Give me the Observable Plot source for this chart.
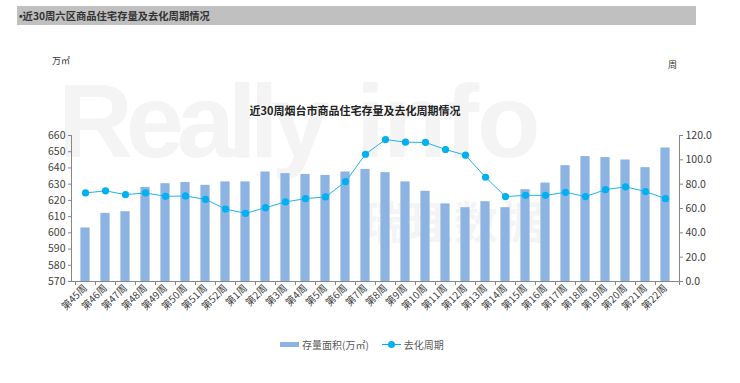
<!DOCTYPE html>
<html><head><meta charset="utf-8">
<script src="https://cdn.jsdelivr.net/npm/d3@7"></script>
<script src="https://cdn.jsdelivr.net/npm/@observablehq/plot@0.6"></script>
<style>
body{margin:0;background:#fff;font-family:"Noto Sans CJK SC","Noto Sans",sans-serif;}
#wrap{position:relative;width:740px;height:383px;overflow:hidden;background:#fff;}
#hdr{position:absolute;left:17px;top:6px;width:679px;height:19px;background:#c0c0c0;font-size:10.3px;font-weight:bold;color:#333;line-height:19px;padding-left:2px;box-sizing:border-box;}
#hdr .b{font-family:"Liberation Sans",Arial,sans-serif;}
.wm{position:absolute;color:#f4f4f4;font-family:"Liberation Sans",Arial,sans-serif;white-space:nowrap;}
#wm1{left:58px;top:62px;font-size:104px;font-weight:bold;letter-spacing:-7px;}
#wm2{left:356px;top:62px;font-size:104px;font-weight:bold;letter-spacing:-2px;}
#wm3{left:362px;top:188px;font-size:44px;font-weight:bold;font-family:"Noto Sans CJK SC";color:#f4f4f4;letter-spacing:2px;}
#unitL{position:absolute;left:52px;top:54px;font-size:9px;color:#333;}
#unitR{position:absolute;left:668px;top:58px;font-size:9px;color:#333;}
#title{position:absolute;left:0;width:710px;top:102px;text-align:center;font-size:11px;font-weight:bold;color:#222;}
#chart{position:absolute;left:0;top:0;}
#legend{position:absolute;top:337px;left:280px;font-size:10px;color:#595959;white-space:nowrap;display:flex;align-items:center;}
.sw1{display:inline-block;width:19px;height:5px;background:#8db3e2;margin-right:3px;}
.sw2{display:inline-block;position:relative;width:19px;height:7px;margin-left:13px;margin-right:3px;}
.sw2:before{content:"";position:absolute;left:0;top:3px;width:19px;height:1px;background:#00b0f0;}
.sw2:after{content:"";position:absolute;left:6px;top:0;width:7px;height:7px;border-radius:50%;background:#00b0f0;}
</style></head><body>
<div id="wrap">
  <div id="hdr"><span class="b">•</span>近30周六区商品住宅存量及去化周期情况</div>
  <div class="wm" id="wm1">Really</div>
  <div class="wm" id="wm2">info</div>
  <div class="wm" id="wm3">瑞理数据</div>
  <div id="unitL">万㎡</div>
  <div id="unitR">周</div>
  <div id="title">近30周烟台市商品住宅存量及去化周期情况</div>
  <div id="chart"></div>
  <div id="legend"><span class="sw1"></span><span>存量面积(万㎡)</span><span class="sw2"></span><span>去化周期</span></div>
</div>
<script>
const weeks = ["第45周","第46周","第47周","第48周","第49周","第50周","第51周","第52周",
  "第1周","第2周","第3周","第4周","第5周","第6周","第7周","第8周","第9周","第10周",
  "第11周","第12周","第13周","第14周","第15周","第16周","第17周","第18周","第19周",
  "第20周","第21周","第22周"];
const stock = [603,612,613,628,630.3,631,629.3,631.4,631.4,637.5,636.5,636,635.4,637.5,639.1,
  637.1,631.4,625.6,617.8,615.5,619.2,615.5,626.6,630.7,641.4,647,646.4,644.9,640.2,652.3];
const cycle = [72.8,74.5,71.4,72.8,70,70.3,67.5,59.6,56,60.7,65.4,68.1,69.5,82.1,104.6,
  116.7,114.5,114.3,108.5,103.8,85.7,69.8,70.8,70.8,73.3,69.8,75.5,77.8,73.9,68.1];
const leftTicks = [570,580,590,600,610,620,630,640,650,660];
const rightTicks = [0,20,40,60,80,100,120];

const leftMin = leftTicks[0], leftMax = leftTicks[leftTicks.length-1];
const rightMax = rightTicks[rightTicks.length-1];
const toLeft = v => leftMin + v * (leftMax - leftMin) / rightMax;
const fromLeft = d => (d - leftMin) * rightMax / (leftMax - leftMin);
const data = weeks.map((w,i) => ({week:w, stock:stock[i], cycle:toLeft(cycle[i])}));

const axisColor = "#868686";
const axesLines = (index, scales, values, dim) => {
  const {x, y} = scales;
  const g = d3.create("svg:g").attr("stroke", axisColor).attr("fill","none");
  const x0 = dim.marginLeft, x1 = dim.width - dim.marginRight;
  const y0 = y(leftMin), yT = y(leftMax);
  g.append("line").attr("x1",x0+0.5).attr("x2",x0+0.5).attr("y1",yT).attr("y2",y0);
  g.append("line").attr("x1",x1+0.5).attr("x2",x1+0.5).attr("y1",yT).attr("y2",y0);
  g.append("line").attr("x1",x0).attr("x2",x1).attr("y1",y0+0.5).attr("y2",y0+0.5);
  const bounds = weeks.map(w => x(w)).concat([x1]);
  for (const b of bounds) {
    g.append("line").attr("x1",Math.round(b)+0.5).attr("x2",Math.round(b)+0.5).attr("y1",y0).attr("y2",y0+4);
  }
  return g.node();
};

const chart = Plot.plot({
  width: 740, height: 340,
  marginLeft: 71, marginRight: 61, marginTop: 135, marginBottom: 59,
  style: {fontFamily: '"Noto Sans CJK SC","Noto Sans",sans-serif', color: "#404040", background: "transparent"},
  x: {domain: weeks, padding: 0, label: null},
  y: {domain: [leftMin, leftMax], label: null},
  marks: [
    Plot.barY(data, {x: "week", y1: leftMin, y2: "stock", fill: "#8db3e2", insetLeft: 5.4, insetRight: 5.4}),
    axesLines,
    Plot.line(data, {x: "week", y: "cycle", stroke: "#1fb5ec", strokeWidth: 1}),
    Plot.dot(data, {x: "week", y: "cycle", r: 3.6, fill: "#00b0f0", stroke: "none"}),
    Plot.axisY({anchor: "left", ticks: leftTicks, tickSize: 3, tickPadding: 3, fontSize: 10.5, stroke: axisColor, label: null}),
    Plot.axisY({anchor: "right", ticks: rightTicks.map(toLeft), tickFormat: d => fromLeft(d).toFixed(1), tickSize: 3, tickPadding: 3, fontSize: 10.5, stroke: axisColor, label: null}),
    Plot.axisX({tickSize: 0, tickRotate: -45, tickPadding: 5, fontSize: 10, label: null})
  ]
});
document.getElementById("chart").appendChild(chart);
</script>
</body></html>
